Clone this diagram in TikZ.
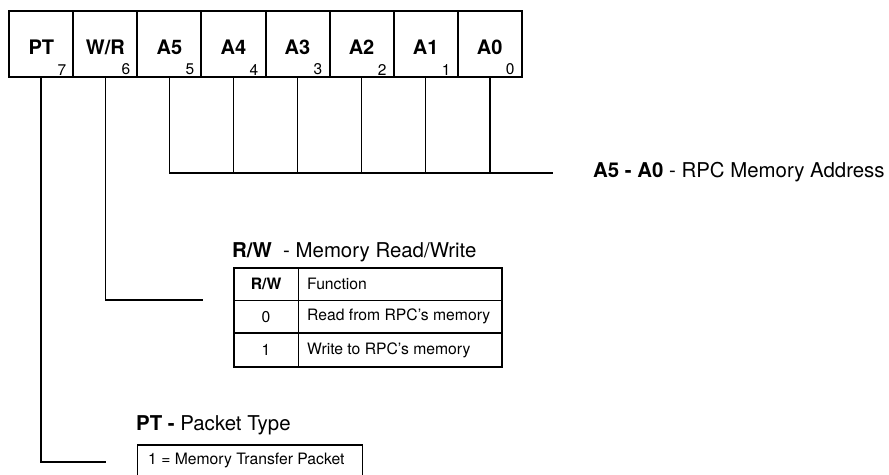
\documentclass[tikz,border=0pt]{standalone}
\usepackage{fontspec}
\setmainfont{TeX Gyre Heros}
\begin{document}
\begin{tikzpicture}[x=1pt,y=-1pt,
  cell/.style={draw,line width=2pt,minimum width=64.05pt,minimum height=66pt,inner sep=0pt,anchor=north west},
  blabel/.style={font=\fontsize{20}{21}\selectfont\bfseries,inner sep=0pt},
  bitnum/.style={font=\fontsize{15.5}{16}\selectfont,inner sep=0pt,anchor=south east},
  wire/.style={line width=1.7pt},
  title/.style={font=\fontsize{20.4}{22}\selectfont,inner sep=0pt,anchor=west},
  tcell/.style={draw,line width=1.7pt,inner sep=0pt,anchor=north west},
  ttext/.style={font=\fontsize{15.7}{17}\selectfont,inner sep=0pt}]
\useasboundingbox[fill=white] (0,0) rectangle (889,474);
% register cells
\foreach \lab/\num [count=\i from 0] in {PT/7,{W/R}/6,A5/5,A4/4,A3/3,A2/2,A1/1,A0/0}{
  \node[cell] (c\num) at (8.3+\i*64.05,10.3) {};
  \node[blabel] (l\num) at ([yshift=-3pt]c\num.center) {\lab};
  \node[bitnum] (n\num) at ([xshift=-8pt,yshift=3pt]c\num.south east) {\num};
}
% address bus
\coordinate (addrEnd) at (553,173);
\foreach \k in {5,4,3,2,1,0}{
  \draw[wire] (c\k.south) -- (c\k.south |- addrEnd);
}
\draw[wire] (c5.south |- addrEnd) -- (addrEnd);
\node[title] (addrT) at (593,172) {\textbf{A5 - A0} - RPC Memory Address};
% W/R
\coordinate (wrEnd) at (203,300);
\draw[wire] (c6.south) |- (wrEnd);
\node[title] (rwT) at (232,252) {\textbf{R/W}\ \ - Memory Read/Write};
\node[tcell,minimum width=64.5pt,minimum height=32.5pt] (h1) at (233,267) {};
\node[tcell,minimum width=203.5pt,minimum height=32.5pt] (h2) at (297.5,267) {};
\node[tcell,minimum width=64.5pt,minimum height=32.5pt] (a1) at (233,299.5) {};
\node[tcell,minimum width=203.5pt,minimum height=32.5pt] (a2) at (297.5,299.5) {};
\node[tcell,minimum width=64.5pt,minimum height=34pt] (b1) at (233,332) {};
\node[tcell,minimum width=203.5pt,minimum height=34pt] (b2) at (297.5,332) {};
\node[ttext,font=\fontsize{15.7}{17}\selectfont\bfseries] at (h1.center) {R/W};
\node[ttext,anchor=west] at ([xshift=9.5pt]h2.west) {Function};
\node[ttext] at (a1.center) {0};
\node[ttext,anchor=west] at ([xshift=9.5pt]a2.west) {Read from RPC's memory};
\node[ttext] at (b1.center) {1};
\node[ttext,anchor=west] at ([xshift=9.5pt]b2.west) {Write to RPC's memory};
% PT
\coordinate (ptEnd) at (106,462);
\draw[wire] (c7.south) |- (ptEnd);
\node[title] (ptT) at (136,425) {\textbf{PT -} Packet Type};
\node[tcell,minimum width=225pt,minimum height=36pt] (ptBox) at (136.7,444) {};
\node[ttext,anchor=west] at (148,460) {1 = Memory Transfer Packet};
\end{tikzpicture}
\end{document}
